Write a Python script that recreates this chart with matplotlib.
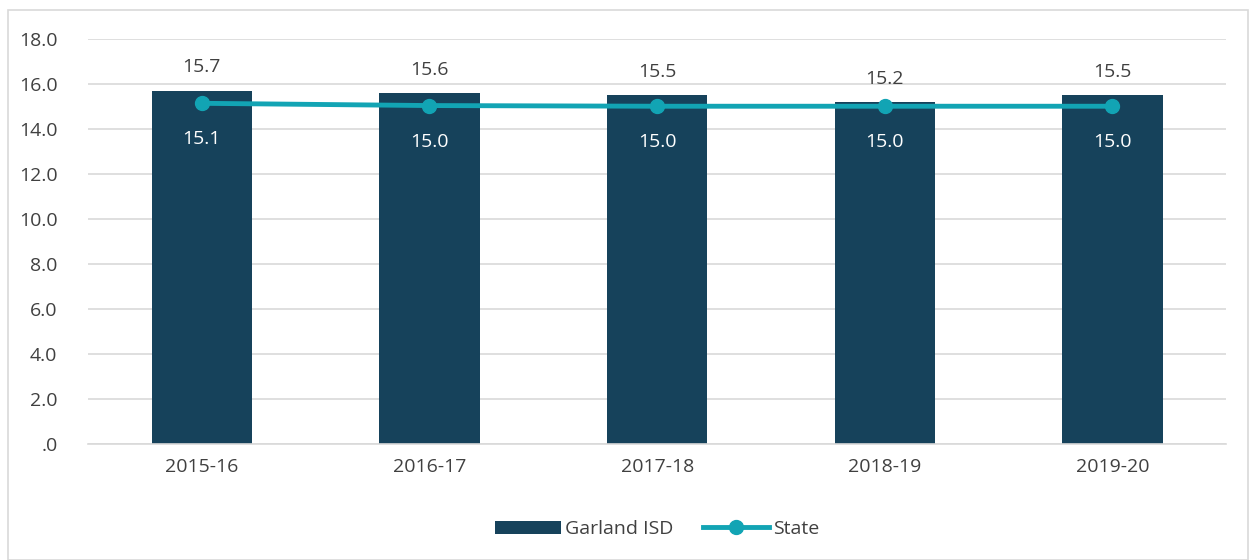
import matplotlib.pyplot as plt
from matplotlib.patches import Rectangle
from matplotlib.ticker import FuncFormatter

plt.rcParams['font.family'] = ['Open Sans', 'DejaVu Sans']

years = ["2015-16", "2016-17", "2017-18", "2018-19", "2019-20"]
garland = [15.7, 15.6, 15.5, 15.2, 15.5]
state = [15.1, 15.0, 15.0, 15.0, 15.0]
state_pos = [15.15, 15.05, 15.02, 15.02, 15.02]

bar_color = "#16425B"
line_color = "#12A4B4"
text_color = "#404040"

fig = plt.figure(figsize=(12.5, 5.6), dpi=100)
fig.patches.append(Rectangle((0.006, 0.0), 0.992, 0.982, transform=fig.transFigure,
                             fill=False, edgecolor="#D9D9D9", linewidth=1.2))
ax = fig.add_axes([0.0704, 0.207, 0.9106, 0.723])

x = list(range(len(years)))
bars = ax.bar(x, garland, width=0.44, color=bar_color, label="Garland ISD", zorder=2)
line, = ax.plot(x, state_pos, color=line_color, linewidth=3.5, marker="o", markersize=10,
                label="State", zorder=3)

for i in x:
    ax.text(i, garland[i] + 1.05, f"{garland[i]:.1f}", ha="center", va="center",
            fontsize=14, color=text_color)
    ax.text(i, state_pos[i] - 1.6, f"{state[i]:.1f}", ha="center", va="center",
            fontsize=14, color="white", zorder=4)

ax.set_xlim(-0.5, 4.5)
ax.set_ylim(0, 18)
ax.set_yticks([0, 2, 4, 6, 8, 10, 12, 14, 16, 18])
ax.yaxis.set_major_formatter(FuncFormatter(lambda v, p: ".0" if v == 0 else f"{v:.1f}"))
ax.set_xticks(x)
ax.set_xticklabels(years)
ax.tick_params(axis="both", length=0, labelsize=14, labelcolor=text_color)
ax.tick_params(axis="y", pad=22)
ax.tick_params(axis="x", pad=10)
ax.grid(axis="y", color="#D9D9D9", linewidth=1.2, zorder=0)
ax.set_axisbelow(True)
for s in ["top", "right", "left"]:
    ax.spines[s].set_visible(False)
ax.spines["bottom"].set_color("#D9D9D9")
ax.spines["bottom"].set_linewidth(1.2)

leg = ax.legend([bars, line], ["Garland ISD", "State"], loc="upper center",
                bbox_to_anchor=(0.5, -0.145), ncol=2, frameon=False,
                fontsize=14, handlelength=3.4, columnspacing=1.5, handletextpad=0.2)
for t in leg.get_texts():
    t.set_color(text_color)

fig.savefig("out.png", dpi=100)
